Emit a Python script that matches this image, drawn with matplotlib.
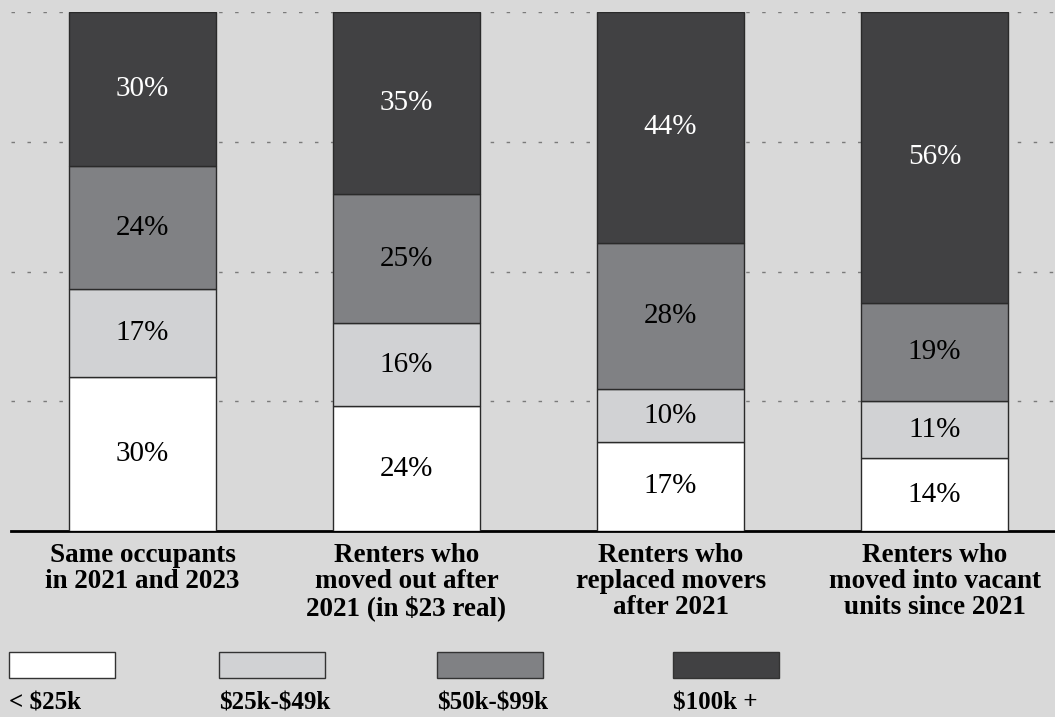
import matplotlib.pyplot as plt
import numpy as np
from matplotlib.patches import Rectangle

# Data
groups = ['Same occupants\nin 2021 and 2023',
          'Renters who\nmoved out after\n2021 (in \\$23 real)',
          'Renters who\nreplaced movers\nafter 2021',
          'Renters who\nmoved into vacant\nunits since 2021']
brackets = ['< \\$25k', '\\$25k-\\$49k', '\\$50k-\\$99k', '\\$100k +']
under_25k = [30, 24, 17, 14]
k25_49k = [17, 16, 10, 11]
k50_99k = [24, 25, 28, 19]
over_100k = [30, 35, 44, 56]

colors = ['#ffffff', '#d1d2d4', '#808184', '#414143']
text_colors = ['black', 'black', 'black', 'white']
bg = '#d9d9d9'

plt.rcParams['font.family'] = ['Liberation Serif', 'DejaVu Serif']

series = np.array([under_25k, k25_49k, k50_99k, over_100k], dtype=float)
# bars are drawn as shares of 100%
shares = series / series.sum(axis=0) * 100

fig = plt.figure(figsize=(10.55, 7.17), dpi=100, facecolor=bg)
ax = fig.add_axes([11 / 1055, 1 - 531 / 717, 1 - 11 / 1055, (531 - 12) / 717])
ax.set_facecolor(bg)

x = np.arange(len(groups))
bottom = np.zeros(len(groups))
for i in range(4):
    ax.bar(x, shares[i], 0.557, bottom=bottom, color=colors[i],
           edgecolor='#2a2a2a', linewidth=1.0, zorder=3)
    for j in range(len(groups)):
        ax.text(x[j], bottom[j] + shares[i][j] / 2, f'{int(series[i][j])}%',
                ha='center', va='center', fontsize=21, color=text_colors[i], zorder=4)
    bottom += shares[i]

ax.set_xlim(-0.498, 3.456)
ax.set_ylim(0, 100)
for y in [25, 50, 75, 100]:
    ax.axhline(y, color='#7a7a7a', linewidth=1, linestyle=(0, (2.5, 9)), zorder=1)

for s in ['top', 'right', 'left']:
    ax.spines[s].set_visible(False)
ax.spines['bottom'].set_linewidth(2)
ax.spines['bottom'].set_color('black')
ax.set_yticks([])
ax.set_xticks(x)
ax.set_xticklabels(groups, fontsize=19.5, fontweight='bold', linespacing=1.04)
ax.tick_params(axis='x', length=0, pad=9)

# legend under the chart
legend_x = [9, 219, 437, 673]
for i in range(4):
    fig.add_artist(Rectangle((legend_x[i] / 1055, 1 - 678 / 717), 106 / 1055, 26 / 717,
                             facecolor=colors[i], edgecolor='#333333', linewidth=1,
                             transform=fig.transFigure))
    fig.text(legend_x[i] / 1055, 1 - 703 / 717, brackets[i], fontsize=18,
             fontweight='bold', ha='left', va='center')

fig.savefig('out.png', dpi=100, facecolor=bg)
